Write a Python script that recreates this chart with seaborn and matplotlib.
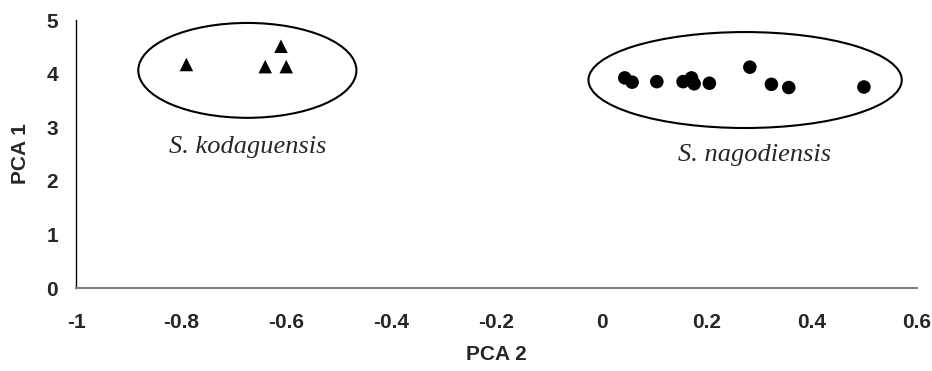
import matplotlib
matplotlib.use("Agg")
import matplotlib.pyplot as plt
from matplotlib.patches import Ellipse
import seaborn as sns
import pandas as pd

# ---- data ----
kod_pca2 = [-0.79, -0.61, -0.64, -0.60]
kod_pca1 = [4.17, 4.51, 4.13, 4.13]
nag_pca2 = [0.044, 0.058, 0.105, 0.155, 0.171, 0.176, 0.205, 0.282, 0.323, 0.356, 0.499]
nag_pca1 = [3.92, 3.84, 3.85, 3.85, 3.92, 3.81, 3.82, 4.12, 3.80, 3.74, 3.75]
species = ["S. kodaguensis", "S. nagodiensis"]
x_ticks = [-1, -0.8, -0.6, -0.4, -0.2, 0, 0.2, 0.4, 0.6]
x_tick_labels = ["-1", "-0.8", "-0.6", "-0.4", "-0.2", "0", "0.2", "0.4", "0.6"]
y_ticks = [0, 1, 2, 3, 4, 5]

df = pd.DataFrame({
    "PCA 2": kod_pca2 + nag_pca2,
    "PCA 1": kod_pca1 + nag_pca1,
    "species": [species[0]] * len(kod_pca2) + [species[1]] * len(nag_pca2),
})

sns.set_style("white")
plt.rcParams["font.family"] = ["Liberation Sans", "DejaVu Sans"]

fig = plt.figure(figsize=(9.32, 3.71), dpi=100)
ax = fig.add_axes([76 / 932, 83 / 371, 841 / 932, 268 / 371])

sns.scatterplot(data=df, x="PCA 2", y="PCA 1", hue="species", style="species",
                palette={species[0]: "black", species[1]: "black"},
                markers={species[0]: "^", species[1]: "o"},
                s=95, edgecolor="none", legend=False, ax=ax)

# group ellipses
ax.add_patch(Ellipse((-0.674, 4.06), 0.415, 1.77, fill=False, edgecolor="black", lw=1.5))
ax.add_patch(Ellipse((0.273, 3.88), 0.596, 1.79, fill=False, edgecolor="black", lw=1.5))

# group labels
ax.text(-0.674, 2.63, species[0], ha="center", va="center", fontsize=19,
        style="italic", family=["Liberation Serif", "DejaVu Serif"])
ax.text(0.29, 2.48, species[1], ha="center", va="center", fontsize=19,
        style="italic", family=["Liberation Serif", "DejaVu Serif"])

ax.set_xlim(-1, 0.6)
ax.set_ylim(0, 5)
ax.set_xticks(x_ticks)
ax.set_xticklabels(x_tick_labels)
ax.set_yticks(y_ticks)

for side in ["top", "right"]:
    ax.spines[side].set_visible(False)
ax.spines["left"].set_color("black")
ax.spines["left"].set_linewidth(1.0)
ax.spines["bottom"].set_color("#808080")
ax.spines["bottom"].set_linewidth(1.5)

ax.tick_params(axis="x", direction="out", length=7, width=1, color="#808080",
               pad=11, labelsize=15)
ax.tick_params(axis="y", direction="out", length=7, width=1, color="black",
               pad=6, labelsize=15)
for lab in ax.get_xticklabels() + ax.get_yticklabels():
    lab.set_fontweight("bold")

ax.set_xlabel("PCA 2", fontsize=15, fontweight="bold", labelpad=9)
ax.set_ylabel("PCA 1", fontsize=15, fontweight="bold", labelpad=12)
ax.grid(False)

fig.savefig("out.png", dpi=100)
